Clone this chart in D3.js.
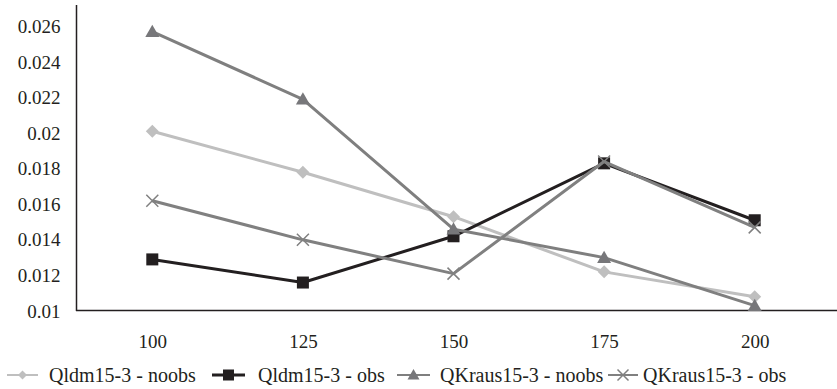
<!DOCTYPE html>
<html><head><meta charset="utf-8">
<script src="https://cdn.jsdelivr.net/npm/d3@7"></script>
</head><body style="margin:0">
<svg id="c" width="837" height="389" font-family="Liberation Serif" style="display:block;font-family:'Liberation Serif'"></svg>
<script>
const categories = ["100","125","150","175","200"];
const seriesNames = ["Qldm15-3 - noobs","Qldm15-3 - obs","QKraus15-3 - noobs","QKraus15-3 - obs"];
const qldmNoobs = [0.0201, 0.0178, 0.0153, 0.0122, 0.0108];
const qldmObs = [0.0129, 0.0116, 0.0142, 0.0183, 0.0151];
const qkrausNoobs = [0.0257, 0.0219, 0.0146, 0.0130, 0.0103];
const qkrausObs = [0.0162, 0.0140, 0.0121, 0.0184, 0.0147];
const yTicks = [0.01,0.012,0.014,0.016,0.018,0.02,0.022,0.024,0.026];
const yTickLabels = ["0.01","0.012","0.014","0.016","0.018","0.02","0.022","0.024","0.026"];
const colors = ["#bfbfbf","#231f20","#7f7f7f","#808080"];
const markers = ["diamond","square","triangle","x"];
const FONT = "'Liberation Serif'";

const svg = d3.select("#c");
const x = d3.scalePoint().domain(categories).range([77,830]).padding(0.5);
const y = d3.scaleLinear().domain([0.01,0.0272]).range([311,5]);

const yAx = svg.append("g").attr("transform","translate(76.5,0)")
  .call(d3.axisLeft(y).tickValues(yTicks).tickSize(0).tickPadding(16).tickFormat((d,i)=>yTickLabels[i]));
yAx.attr("font-family",null).attr("font-size",null);
yAx.select(".domain").remove();
yAx.selectAll("text").style("font-family",FONT).attr("font-size",19).attr("fill","#231f20");
svg.append("line").attr("x1",76.5).attr("x2",76.5).attr("y1",5).attr("y2",311).attr("stroke","#231f20").attr("stroke-width",1.5);

const xAx = svg.append("g").attr("transform","translate(0,311)")
  .call(d3.axisBottom(x).tickSize(0).tickPadding(24));
xAx.attr("font-family",null).attr("font-size",null);
xAx.select(".domain").remove();
xAx.selectAll("text").style("font-family",FONT).attr("font-size",19).attr("fill","#231f20");
svg.append("line").attr("x1",76).attr("x2",837).attr("y1",310.5).attr("y2",310.5).attr("stroke","#231f20").attr("stroke-width",1.5);

const allSeries = [qldmNoobs, qldmObs, qkrausNoobs, qkrausObs];
const line = d3.line().x((d,i)=>x(categories[i])).y(d=>y(d));

function drawMarker(g, type, cx, cy, color, s){
  if(type==="diamond"){
    g.append("path").attr("d",`M${cx},${cy-s}L${cx+s},${cy}L${cx},${cy+s}L${cx-s},${cy}Z`).attr("fill",color);
  } else if(type==="square"){
    g.append("rect").attr("x",cx-s).attr("y",cy-s).attr("width",2*s).attr("height",2*s).attr("fill",color);
  } else if(type==="triangle"){
    g.append("path").attr("d",`M${cx},${cy-s}L${cx+s},${cy+s*0.75}L${cx-s},${cy+s*0.75}Z`).attr("fill",color);
  } else {
    g.append("path").attr("d",`M${cx-s},${cy-s}L${cx+s},${cy+s}M${cx+s},${cy-s}L${cx-s},${cy+s}`).attr("stroke",color).attr("stroke-width",1.5).attr("fill","none");
  }
}
const sizes = {diamond:6.5, square:6, triangle:7, x:6};

allSeries.forEach((vals,k)=>{
  const g = svg.append("g");
  g.append("path").datum(vals).attr("d",line).attr("fill","none").attr("stroke",colors[k]).attr("stroke-width",3).attr("stroke-linejoin","round");
  vals.forEach((v,i)=>drawMarker(g, markers[k], x(categories[i]), y(v), k===2?"#77777a":colors[k], sizes[markers[k]]));
});

const legX = [7, 212, 397, 608];
const legTextOff = [42, 46, 43, 35];
const legLineLen = [31, 33, 33, 30];
seriesNames.forEach((n,k)=>{
  const g = svg.append("g").attr("transform",`translate(${legX[k]},375)`);
  g.append("line").attr("x1",0).attr("x2",legLineLen[k]).attr("y1",0).attr("y2",0).attr("stroke",colors[k]).attr("stroke-width",k===1?3:2);
  drawMarker(g, markers[k], legLineLen[k]/2, 0, k===2?"#77777a":colors[k], markers[k]==="diamond"?4.5:markers[k]==="triangle"?6:5.5);
  g.append("text").attr("x",legTextOff[k]).attr("y",7).style("font-family",FONT).attr("font-size",20).attr("fill","#231f20").text(n);
});
</script></body></html>
